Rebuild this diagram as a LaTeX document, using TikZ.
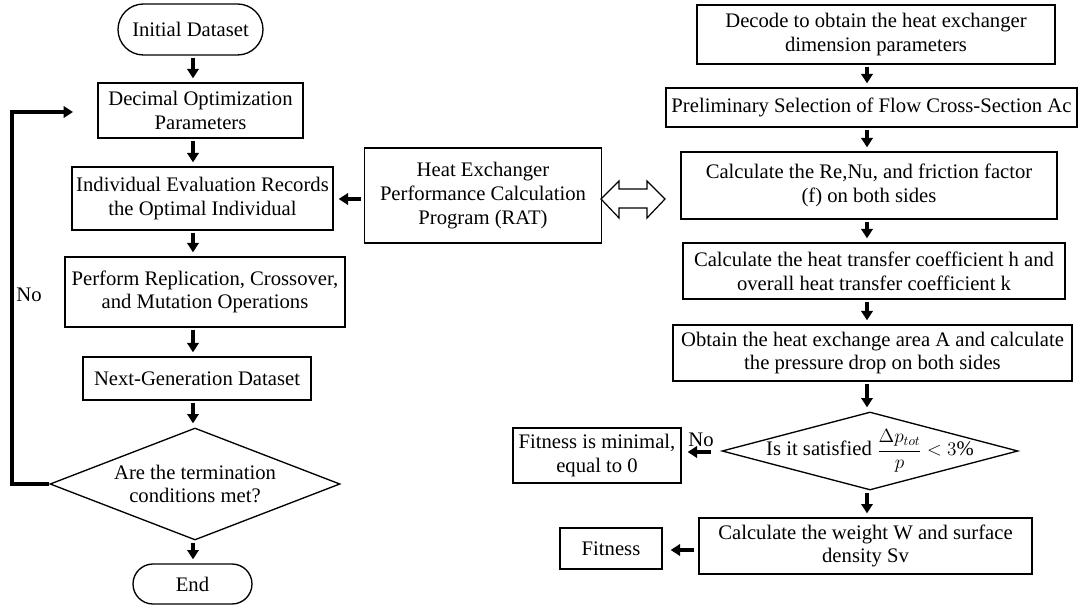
\documentclass[tikz,border=0pt]{standalone}
\usepackage{fontspec}
\setmainfont{Liberation Serif}
\usetikzlibrary{shapes.geometric,shapes.misc,arrows.meta}
\newdimen\px \px=0.75pt
\def\fs{\fontsize{15.5}{17.8}\selectfont}
\begin{document}
\begin{tikzpicture}[x=0.75pt,y=-0.75pt,
  box/.style={draw, line width=1pt, rectangle, inner sep=0pt, align=center, font=\fs},
  term/.style={draw, line width=1pt, rounded rectangle, inner sep=0pt, font=\fs},
  dia/.style={draw, line width=1pt, diamond, inner sep=0pt},
  arr/.style={line width=2.3pt, -{Triangle[length=7pt,width=8.5pt]}, shorten <=2\px, shorten >=4\px},
  loop/.style={line width=2.3pt, -{Triangle[length=7pt,width=8.5pt]}},
  lbl/.style={font=\fs, inner sep=0pt, align=center},
  hollow/.style={draw, line width=0.9pt, fill=white, line join=miter}]
\useasboundingbox (0,0) rectangle (1080,605);
\coordinate (lx) at (193,0);
\coordinate (rx) at (867,0);
% left column
\node[term, minimum width=145\px, minimum height=51\px] (init) at (190.5,29.5) {Initial Dataset};
\node[box, minimum width=205\px, minimum height=55\px] (dec) at (200.5,110.5) {Decimal Optimization\\Parameters};
\node[box, minimum width=261\px, minimum height=63\px] (ind) at (202.5,198.5) {Individual Evaluation Records\\the Optimal Individual};
\node[box, minimum width=280\px, minimum height=70\px] (perf) at (205,292) {Perform Replication, Crossover,\\and Mutation Operations};
\node[box, minimum width=228\px, minimum height=43\px] (next) at (197,378.5) {Next-Generation Dataset};
\node[dia, minimum width=290\px, minimum height=112\px] (cond) at (195,484) {};
\node[lbl] at (cond) {Are the termination\\conditions met?};
\node[term, minimum width=119\px, minimum height=40\px] (end) at (192.5,584) {End};
% middle
\node[box, minimum width=237\px, minimum height=95\px] (heat) at (483,195.5) {Heat Exchanger\\Performance Calculation\\Program (RAT)};
% right column
\node[box, minimum width=358\px, minimum height=59\px] (decode) at (876,34.5) {Decode to obtain the heat exchanger\\dimension parameters};
\node[box, minimum width=411\px, minimum height=39\px] (prelim) at (871.5,107.5) {Preliminary Selection of Flow Cross-Section Ac};
\node[box, minimum width=376\px, minimum height=67\px] (calcre) at (869,185.5) {Calculate the Re,Nu, and friction factor\\(f) on both sides};
\node[box, minimum width=382\px, minimum height=56\px] (heatcoef) at (874,271) {Calculate the heat transfer coefficient h and\\overall heat transfer coefficient k};
\node[box, minimum width=399\px, minimum height=56\px] (obtain) at (872.5,353) {Obtain the heat exchange area A and calculate\\the pressure drop on both sides};
\node[dia, minimum width=296\px, minimum height=78\px] (sat) at (870,451) {};
\node[lbl] at (sat) {Is it satisfied {\fontsize{14}{16}\selectfont$\displaystyle\frac{\Delta p_{tot}}{p}$} $< 3\%$};
\node[box, minimum width=168\px, minimum height=55\px] (fitmin) at (597,455.5) {Fitness is minimal,\\equal to 0};
\node[box, minimum width=333\px, minimum height=56\px] (weight) at (865.5,546) {Calculate the weight W and surface\\density Sv};
\node[box, minimum width=102\px, minimum height=41\px] (fit) at (611,548.5) {Fitness};
% left arrows
\draw[arr] (init.south -| lx) -- (dec.north -| lx);
\draw[arr] (dec.south -| lx) -- (ind.north -| lx);
\draw[arr] (ind.south -| lx) -- (perf.north -| lx);
\draw[arr] (perf.south -| lx) -- (next.north -| lx);
\draw[arr] (next.south -| lx) -- (cond.north -| lx);
\draw[arr] (cond.south -| lx) -- (end.north -| lx);
\coordinate (loopend) at (73,112);
\draw[loop] (cond.west) -- (12,484) |- (loopend);
\node[lbl] (nol) at (29,295) {No};
% middle arrows
\draw[arr, shorten <=3\px, shorten >=5\px] (heat.west |- 0,199) -- (ind.east |- 0,199);
\draw[hollow] (601,199) -- (619,181) -- (619,189) -- (647,189) -- (647,181) -- (665,199) -- (647,218) -- (647,208) -- (619,208) -- (619,218) -- cycle;
% right arrows
\draw[arr] (decode.south -| rx) -- (prelim.north -| rx);
\draw[arr] (prelim.south -| rx) -- (calcre.north -| rx);
\draw[arr] (calcre.south -| rx) -- (heatcoef.north -| rx);
\draw[arr] (heatcoef.south -| rx) -- (obtain.north -| rx);
\draw[arr] (obtain.south -| rx) -- (sat.north -| rx);
\draw[arr] (sat.south -| rx) -- (weight.north -| rx);
\draw[arr, shorten <=10\px, shorten >=6\px] (sat.west |- 0,452) -- (fitmin.east |- 0,452);
\node[lbl] (nor) at (701,440) {No};
\draw[arr, shorten <=4\px, shorten >=8\px] (weight.west |- 0,550) -- (fit.east |- 0,550);
\end{tikzpicture}
\end{document}
